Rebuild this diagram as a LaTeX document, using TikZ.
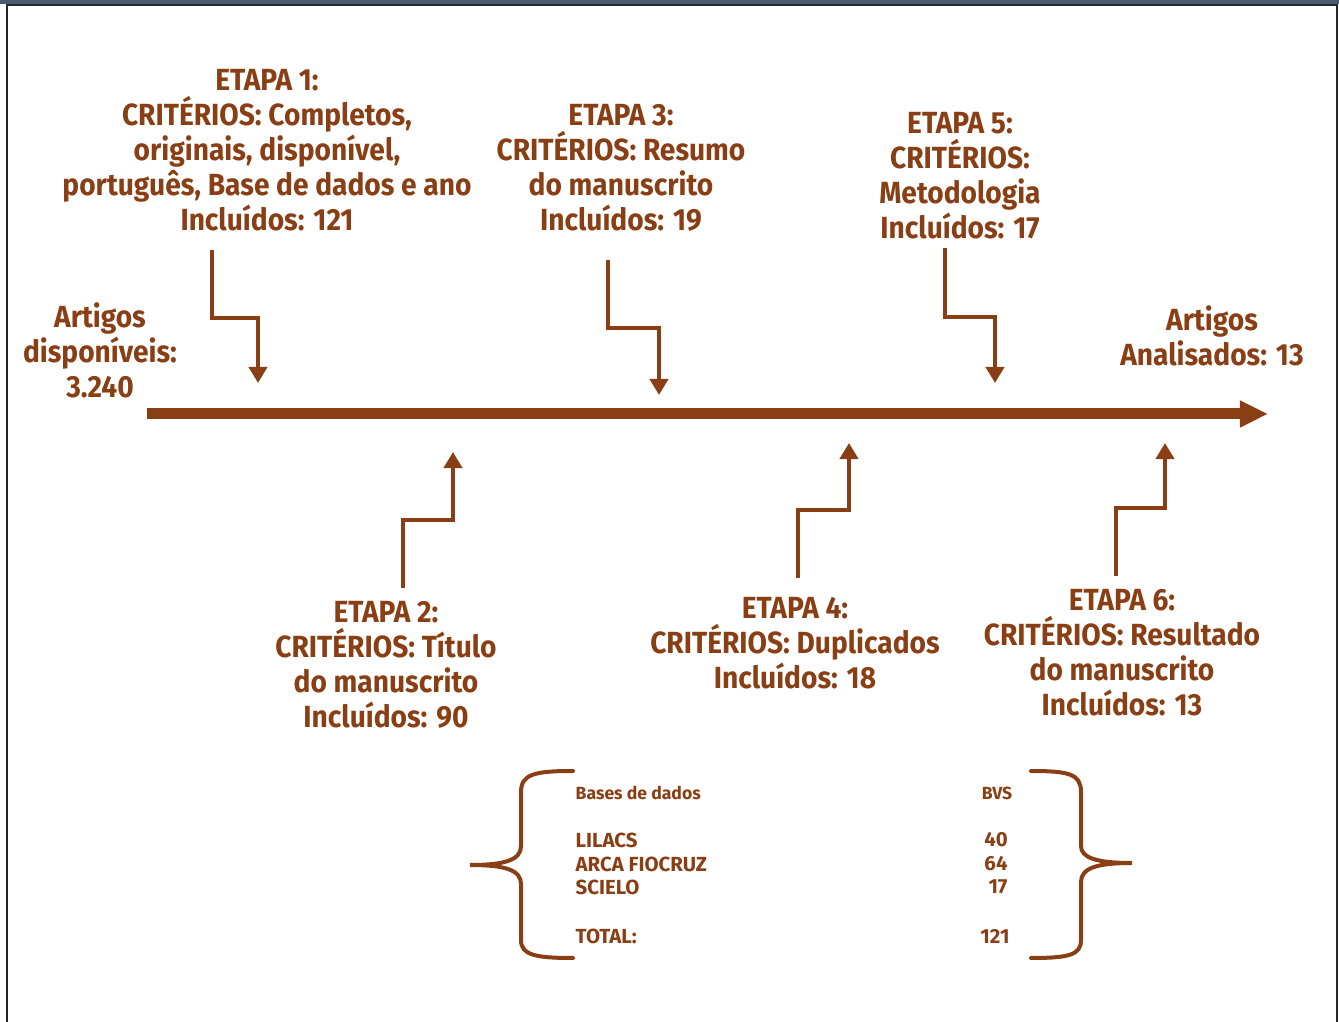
\documentclass[tikz,border=0pt]{standalone}
\usepackage{fontspec}
\setmainfont{Fira Sans}
\newfontfamily\stagefont{Fira Sans}[FakeStretch=0.92]
\usetikzlibrary{arrows.meta}
\definecolor{stagebrown}{RGB}{137,62,20}
\definecolor{framebar}{RGB}{74,90,112}

\begin{document}
\begin{tikzpicture}%
	[x=0.01cm, y=-0.01cm,
	frameline/.style={color=black!85, line width=0.02cm},
	timeline/.style={color=stagebrown, line width=0.11cm, -{Triangle[length=0.28cm,width=0.25cm]}},
	steparrow/.style={color=stagebrown, line width=0.04cm, -{Triangle[length=0.16cm,width=0.18cm]}},
	brace/.style={color=stagebrown, line width=0.04cm, line cap=round},
	stage/.style={text=stagebrown, font=\stagefont\fontsize{8.7}{9.96}\selectfont\bfseries, align=center, inner sep=0pt},
	tablehead/.style={text=stagebrown, font=\fontsize{5}{6}\selectfont\bfseries, inner sep=0pt},
	tablerow/.style={text=stagebrown, font=\fontsize{5.8}{7}\selectfont\bfseries, inner sep=0pt}]
%
\useasboundingbox (0,0) rectangle (1339,1022);
%% frame
\fill[framebar] (0,0) rectangle (1339,4);
\draw[frameline] (7,1022) -- (7,5) -- (1337,5) -- (1337,1022);
%%
%% the stages
%%
\node[stage] (etapa1) at (267,150) {ETAPA 1:\\CRITÉRIOS: Completos,\\originais, disponível,\\português, Base de dados e ano\\Incluídos: 121};
\node[stage] (etapa3) at (621,168) {ETAPA 3:\\CRITÉRIOS: Resumo\\do manuscrito\\Incluídos: 19};
\node[stage] (etapa5) at (960,176) {ETAPA 5:\\CRITÉRIOS:\\Metodologia\\Incluídos: 17};
\node[stage] (etapa2) at (386,665) {ETAPA 2:\\CRITÉRIOS: Título\\do manuscrito\\Incluídos: 90};
\node[stage] (etapa4) at (795,643) {ETAPA 4:\\CRITÉRIOS: Duplicados\\Incluídos: 18};
\node[stage] (etapa6) at (1122,653) {ETAPA 6:\\CRITÉRIOS: Resultado\\do manuscrito\\Incluídos: 13};
\node[stage] (inicio) at (100,350) {Artigos\\disponíveis:\\3.240};
\node[stage] (fim) at (1212,336) {Artigos\\Analisados: 13};
%%
%% the timeline
%%
\coordinate (tstart) at (147,414);
\coordinate (tend) at (1268,414);
\draw[timeline] (tstart) -- (tend);
%%
%% arrows from above
%%
\coordinate (s1) at (212,250);
\coordinate (t1) at (258,383);
\coordinate (s3) at (608,260);
\coordinate (t3) at (659,395);
\coordinate (s5) at (945,248);
\coordinate (t5) at (995,383);
\draw[steparrow] (s1) -- ++(0,68) -| (t1);
\draw[steparrow] (s3) -- ++(0,68) -| (t3);
\draw[steparrow] (s5) -- ++(0,69) -| (t5);
%%
%% arrows from below
%%
\coordinate (s2) at (403,588);
\coordinate (t2) at (453,452);
\coordinate (s4) at (798,578);
\coordinate (t4) at (849,443);
\coordinate (s6) at (1116,576);
\coordinate (t6) at (1165,443);
\draw[steparrow] (s2) -- ++(0,-68) -| (t2);
\draw[steparrow] (s4) -- ++(0,-68) -| (t4);
\draw[steparrow] (s6) -- ++(0,-68) -| (t6);
%%
%% the table of data bases
%%
\draw[brace] (573,771) .. controls (535,771) and (521,774) .. (521,792) -- (521,846)
	.. controls (521,860) and (505,865) .. (470,865)
	.. controls (505,865) and (521,870) .. (521,884) -- (521,940)
	.. controls (521,955) and (535,958) .. (573,958);
\draw[brace] (1031,771) .. controls (1069,771) and (1081,774) .. (1081,792) -- (1081,846)
	.. controls (1081,858) and (1097,863) .. (1132,863)
	.. controls (1097,863) and (1081,868) .. (1081,882) -- (1081,940)
	.. controls (1081,955) and (1069,958) .. (1031,958);
\node[tablehead, anchor=west] (bases) at (575,793) {Bases de dados};
\node[tablehead] (bvs) at (997,793) {BVS};
\node[tablerow, anchor=west] (lilacs) at (575,840) {LILACS};
\node[tablerow, anchor=west] (arca) at (575,864) {ARCA FIOCRUZ};
\node[tablerow, anchor=west] (scielo) at (575,887) {SCIELO};
\node[tablerow, anchor=west] (total) at (575,936) {TOTAL:};
\node[tablerow] (nlilacs) at (996,840) {40};
\node[tablerow] (narca) at (996,864) {64};
\node[tablerow] (nscielo) at (998,887) {17};
\node[tablerow] (ntotal) at (995,936) {121};
\end{tikzpicture}
\end{document}
